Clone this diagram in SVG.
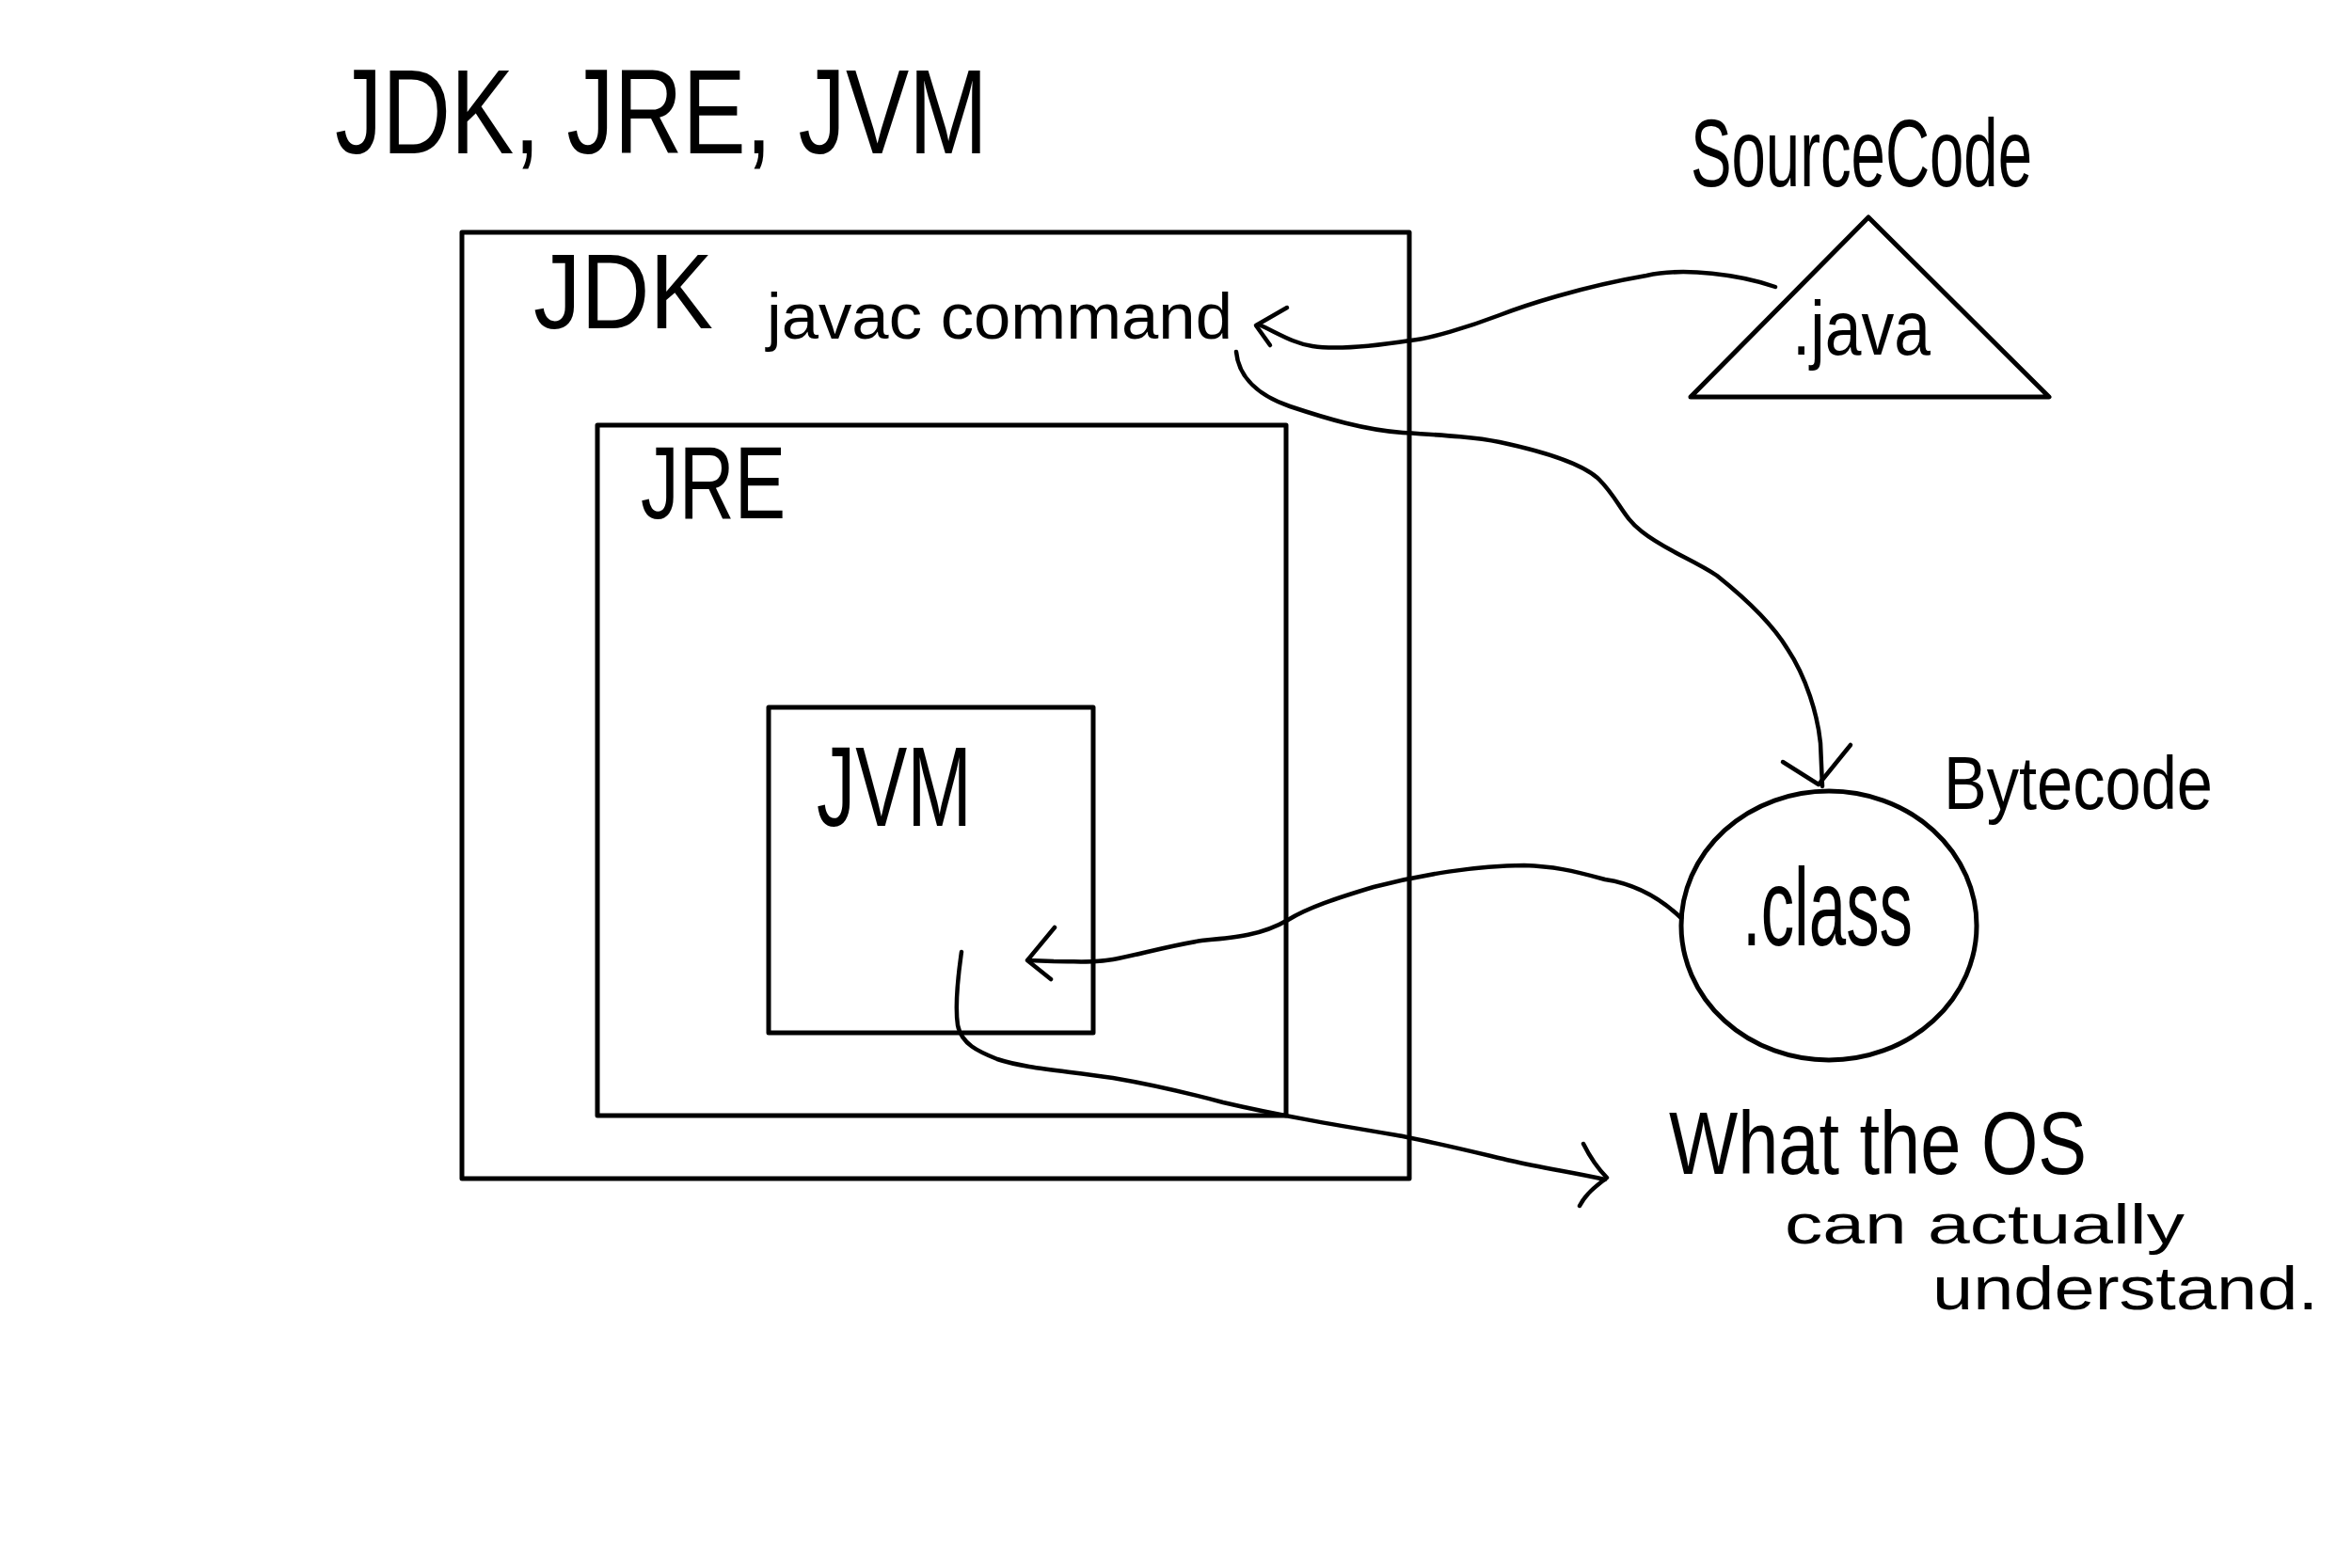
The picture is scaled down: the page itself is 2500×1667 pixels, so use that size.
<svg xmlns="http://www.w3.org/2000/svg" width="2500" height="1667" viewBox="0 0 2500 1667">
<style>
.box{fill:none;stroke:#000;stroke-width:5;stroke-linejoin:round;stroke-linecap:round}
.ln{fill:none;stroke:#000;stroke-width:4.5;stroke-linecap:round;stroke-linejoin:round}
.t{font-family:"Liberation Sans","DejaVu Sans",sans-serif;fill:#000}
</style>
<rect width="2500" height="1667" fill="#fff"/>
<text class="t" x="356" y="163" font-size="128" textLength="694" lengthAdjust="spacingAndGlyphs">JDK, JRE, JVM</text>
<g id="jdk">
<rect class="box" x="491" y="247" width="1007" height="1006"/>
<text class="t" x="567" y="349" font-size="113" textLength="191" lengthAdjust="spacingAndGlyphs">JDK</text>
<text class="t" x="815" y="360" font-size="68" textLength="495" lengthAdjust="spacingAndGlyphs">javac command</text>
</g>
<g id="jre">
<rect class="box" x="635" y="452" width="732" height="734"/>
<text class="t" x="681" y="551" font-size="109" textLength="154" lengthAdjust="spacingAndGlyphs">JRE</text>
</g>
<g id="jvm">
<rect class="box" x="817" y="752" width="345" height="346"/>
<text class="t" x="868" y="878" font-size="121" textLength="165" lengthAdjust="spacingAndGlyphs">JVM</text>
</g>
<g id="source">
<polygon class="box" points="1986,231 2178,422 1797,422"/>
<text class="t" x="1797" y="198" font-size="102" textLength="363" lengthAdjust="spacingAndGlyphs">SourceCode</text>
<text class="t" x="1905" y="377" font-size="82" textLength="147" lengthAdjust="spacingAndGlyphs">.java</text>
</g>
<g id="bytecode">
<ellipse class="box" cx="1944" cy="984" rx="157" ry="143" stroke-width="6"/>
<text class="t" x="2066" y="860" font-size="80" textLength="286" lengthAdjust="spacingAndGlyphs">Bytecode</text>
<text class="t" x="1852" y="1005" font-size="116" textLength="181" lengthAdjust="spacingAndGlyphs">.class</text>
</g>
<g id="os-note">
<text class="t" x="1774" y="1248" font-size="94" textLength="444" lengthAdjust="spacingAndGlyphs">What the OS</text>
<text class="t" x="1897" y="1322" font-size="60" textLength="425" lengthAdjust="spacingAndGlyphs">can actually</text>
<text class="t" x="2054" y="1392" font-size="64" textLength="410" lengthAdjust="spacingAndGlyphs">understand.</text>
</g>
<g id="connectors">
<path class="ln" d="M1887,305 C1850,292 1790,284 1750,293 C1680,305 1620,325 1594,335 C1560,348 1520,360 1499,362 C1460,368 1420,372 1395,368 C1375,365 1360,355 1338,345"/>
<path class="ln" d="M1368,327 L1335,346 L1350,367"/>
<path class="ln" d="M1314,374 C1316,395 1330,418 1371,432 C1410,445 1450,457 1491,460 C1540,463 1570,465 1594,470 C1650,482 1685,495 1700,510 C1720,530 1725,550 1745,565 C1770,585 1800,595 1825,612 C1860,640 1885,665 1900,690 C1920,720 1932,760 1935,790 L1937,836"/>
<path class="ln" d="M1895,810 L1933,834 L1967,792"/>
<path class="ln" d="M1787,976 C1765,955 1740,940 1706,935 C1670,925 1650,921 1620,920 C1570,920 1510,930 1460,943 C1420,955 1390,965 1369,978 C1340,995 1310,997 1277,1000 C1240,1006 1210,1015 1183,1020 C1160,1024 1150,1022 1120,1022 L1093,1021"/>
<path class="ln" d="M1121,986 L1092,1021 L1117,1041"/>
<path class="ln" d="M1022,1012 C1018,1040 1015,1070 1018,1090 C1022,1110 1040,1118 1060,1126 C1090,1136 1130,1138 1183,1146 C1230,1154 1270,1164 1300,1172 C1360,1186 1420,1196 1491,1208 C1540,1218 1580,1228 1606,1234 C1640,1242 1670,1246 1706,1254"/>
<path class="ln" d="M1683,1216 C1690,1230 1698,1242 1708,1252 C1695,1262 1685,1270 1679,1282"/>
</g>
</svg>
